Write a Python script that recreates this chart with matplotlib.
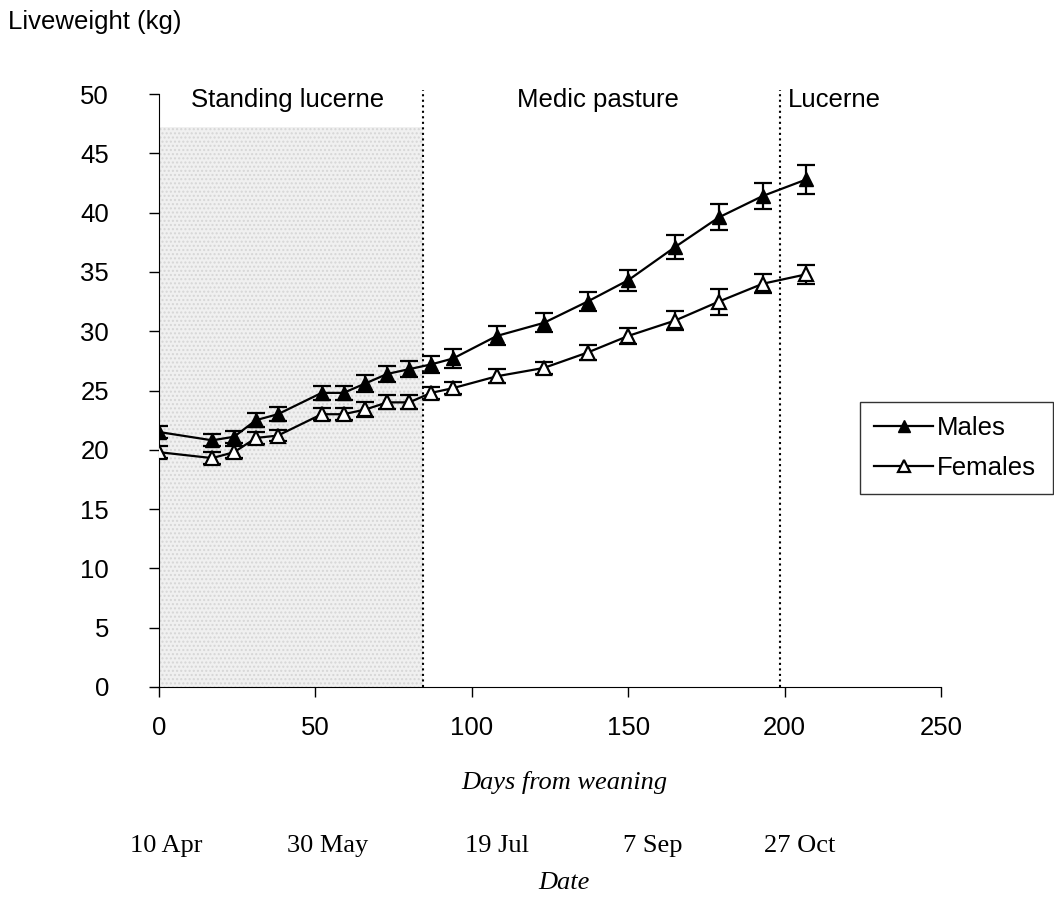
import numpy as np
import matplotlib
matplotlib.use("Agg")
import matplotlib.pyplot as plt

# dados
days = [0, 17, 24, 31, 38, 52, 59, 66, 73, 80, 87, 94, 108, 123, 137, 150, 165, 179, 193, 207]
males = [21.5, 20.8, 21.1, 22.5, 23.0, 24.8, 24.8, 25.6, 26.4, 26.8,
         27.2, 27.7, 29.6, 30.7, 32.5, 34.3, 37.1, 39.6, 41.4, 42.8]
males_err = [0.5, 0.5, 0.5, 0.6, 0.6, 0.6, 0.6, 0.7, 0.7, 0.7,
             0.7, 0.8, 0.8, 0.8, 0.8, 0.9, 1.0, 1.1, 1.1, 1.2]
females = [19.8, 19.3, 19.8, 21.0, 21.2, 23.0, 23.0, 23.4, 24.0, 24.0,
           24.8, 25.2, 26.2, 26.9, 28.2, 29.6, 30.9, 32.5, 34.0, 34.8]
females_err = [0.5, 0.5, 0.5, 0.5, 0.5, 0.5, 0.5, 0.6, 0.6, 0.6,
               0.5, 0.5, 0.6, 0.5, 0.6, 0.7, 0.8, 1.1, 0.8, 0.8]

phase_bounds = [0, 84.4, 198.5]
phase_names = ["Standing lucerne", "Medic pasture", "Lucerne"]
phase_label_x = [41.2, 140.3, 215.8]
date_labels = ["10 Apr", "30 May", "19 Jul", "7 Sep", "27 Oct"]
date_px = [166, 328, 497, 653, 800]

plt.rcParams['font.family'] = ['Liberation Sans', 'DejaVu Sans']

W, H = 1054, 917
fig = plt.figure(figsize=(W / 100, H / 100), dpi=100)
ax = fig.add_axes([159 / W, 1 - 687 / H, (941 - 159) / W, (687 - 94) / H])

# area sombreada (lucerna em pe)
ax.fill_between([phase_bounds[0], phase_bounds[1]], 0, 47.2, color='#f0f0f0',
                hatch='....', edgecolor='#d6d6d6', linewidth=0, zorder=0)
for xb in phase_bounds[1:]:
    ax.plot([xb, xb], [0, 50.3], color='black', linestyle=':', linewidth=1.5,
            clip_on=False, zorder=1)

ax.errorbar(days, males, yerr=males_err, color='black', marker='^', markersize=10.5,
            markerfacecolor='black', markeredgecolor='black', linewidth=1.6,
            capsize=6.5, capthick=1.6, elinewidth=1.6, label='Males', zorder=3)
ax.errorbar(days, females, yerr=females_err, color='black', marker='^', markersize=10.5,
            markerfacecolor='white', markeredgecolor='black', markeredgewidth=1.6,
            linewidth=1.6, capsize=6.5, capthick=1.6, elinewidth=1.6,
            label='Females', zorder=3)

ax.set_xlim(0, 250)
ax.set_ylim(0, 50)
ax.set_xticks([0, 50, 100, 150, 200, 250])
ax.set_yticks(range(0, 51, 5))
ax.tick_params(labelsize=18.5, length=7, width=1, direction='out')
ax.tick_params(axis='x', pad=14)
ax.tick_params(axis='y', pad=29)
ax.spines['top'].set_visible(False)
ax.spines['right'].set_visible(False)

for name, xl in zip(phase_names, phase_label_x):
    ax.text(xl, 49.5, name, ha='center', va='center', fontsize=18.5)

handles, labels = ax.get_legend_handles_labels()
handles = [h[0] for h in handles]
leg = fig.legend(handles, labels, loc='upper left',
                 bbox_to_anchor=(860 / W, 1 - 488 / H, (1053 - 860) / W, (488 - 402) / H),
                 mode='expand', fontsize=18.5, frameon=True, fancybox=False,
                 edgecolor='black', handlelength=2.3, handletextpad=0.15,
                 borderpad=0.55, labelspacing=0.62, borderaxespad=0, markerscale=0.8)
leg.get_frame().set_linewidth(1)

fig.text(8 / W, 1 - 22 / H, "Liveweight (kg)", fontsize=18.5, ha='left', va='center')

serif = ['Liberation Serif', 'DejaVu Serif']
fig.text(564 / W, 1 - 783 / H, "Days from weaning", fontsize=19, style='italic',
         family=serif, ha='center', va='center')
for lab, xp in zip(date_labels, date_px):
    fig.text(xp / W, 1 - 846 / H, lab, fontsize=19, family=serif,
             ha='center', va='center')
fig.text(564 / W, 1 - 883 / H, "Date", fontsize=19, style='italic',
         family=serif, ha='center', va='center')

fig.savefig("out.png", dpi=100)
